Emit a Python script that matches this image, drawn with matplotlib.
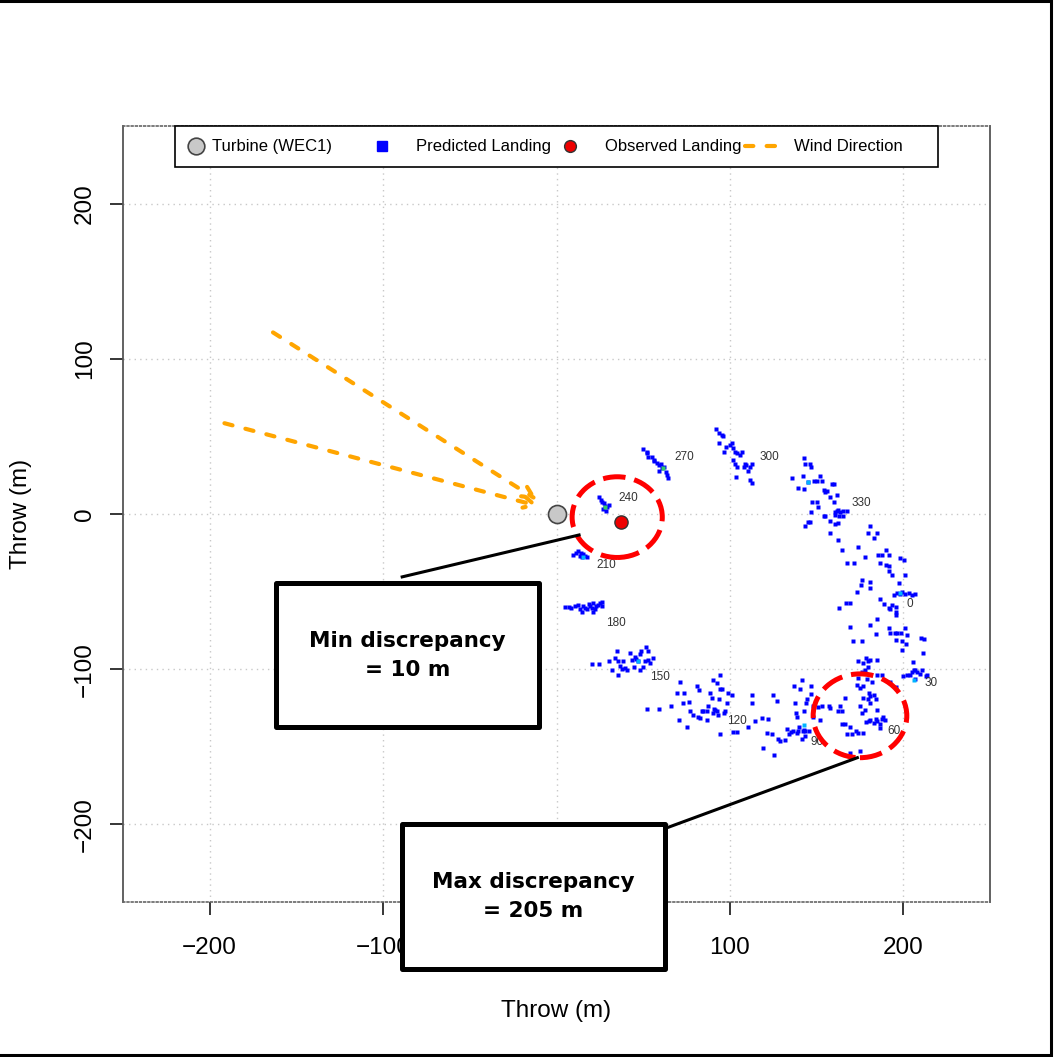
import matplotlib
matplotlib.use("Agg")
import matplotlib.pyplot as plt
from matplotlib.patches import Circle, Rectangle

plt.rcParams['font.family'] = ['Liberation Sans', 'DejaVu Sans']

# turbine and observed fragment (m)
turbine = (0, 0)
observed = (37, -5)

# predicted landing points, grouped by release angle (m)
land_240 = [(24.5, 11), (25.5, 9), (26.5, 8), (27.5, 7), (28, 5), (29, 4.5), (30, 6), (27, 3), (28.5, 2)]
land_210 = [(9.5, -26.5), (11, -25), (12.5, -24), (13.5, -27), (14.5, -27.5), (15.5, -25.5),
            (16.5, -27), (17.5, -28), (14, -25)]
land_180 = [(5, -60), (7, -60), (8.5, -60.5), (10.5, -59.5), (12.5, -58.5), (13.5, -61.5), (14.5, -63),
            (15.5, -59), (16.5, -60.5), (17.5, -61.5), (18.5, -58), (19.5, -59.5), (20.5, -60.5),
            (21, -57.5), (22, -61.5), (23, -59), (24, -58.5), (25, -57.5), (26, -56.5), (26.5, -59.5),
            (21, -63)]
land_150 = [(20.5, -96.5), (24.5, -96.5), (30, -95), (32, -100.5), (33.5, -93), (35, -88.5), (35.5, -94.5),
            (36.5, -98), (37.5, -100), (39.5, -99), (40.5, -100.5), (42.5, -89.5), (43.5, -94), (44.5, -98.5),
            (45.5, -92), (46, -93.5), (47, -95), (48, -100.5), (48, -90.5), (49, -88.5), (50, -98.5),
            (51, -95), (51.5, -85.5), (52.5, -88), (53, -94), (54, -96), (55.5, -93), (35.5, -103.5),
            (38.5, -95)]
land_120 = [(52, -125.5), (59, -125.5), (66, -123.5), (69.5, -115), (70.5, -132.5), (71.5, -108),
            (73, -121.5), (73.5, -115.5), (75, -137), (76.5, -121), (77, -127), (78.5, -129.5), (81, -111),
            (81.5, -131), (82, -113.5), (83, -131.5), (84, -127), (84.5, -127), (86.5, -127), (87.5, -124),
            (88.5, -115.5), (89.5, -118.5), (90, -107), (90.5, -128), (91, -125.5), (91.5, -126),
            (92.5, -127), (93, -129.5), (93.5, -119.5), (94.5, -141.5), (94.5, -103.5), (95.5, -113),
            (96.5, -128), (97, -127), (98.5, -121.5), (99, -115.5), (101, -116.5), (102, -140.5),
            (104, -140.5), (94.5, -113), (86.5, -132.5), (92.5, -109)]
land_90 = [(110.5, -137), (112.5, -116.5), (113, -122), (114.5, -133.5), (118.5, -131.5), (119, -150.5),
           (121.5, -141), (122, -132), (124, -141.5), (125, -116.5), (125.5, -155.5), (127, -120.5),
           (127.5, -145), (129, -146), (131.5, -145.5), (133, -138.5), (134, -141.5), (135, -140.5),
           (136.5, -140), (137, -110.5), (137.5, -121.5), (138, -128), (138.5, -141), (139.5, -140),
           (140.5, -113), (141.5, -107), (142, -140), (142.5, -127), (143, -139), (143.5, -139.5),
           (144, -122), (144.5, -119.5), (145.5, -140), (146.5, -116), (147, -111), (148, -124),
           (140, -137), (143.5, -143), (141.5, -145), (138.5, -130.5), (148, -130.5), (152, -132.5)]
land_60 = [(178.5, -93), (179.5, -94.5), (180.5, -94), (177, -96), (174, -95), (185, -94), (179.5, -98.5),
           (178, -100.5), (176, -102), (174, -105.5), (179, -106.5), (182, -108), (173, -110), (175, -112),
           (177, -110.5), (180, -115.5), (180.5, -117.5), (179.5, -119), (183, -116.5), (184, -119),
           (185, -126), (181, -121.5), (175, -123.5), (176, -128), (163.5, -124), (164.5, -127),
           (162.5, -127), (164.5, -135), (166.5, -135), (169.5, -137), (172.5, -140), (170.5, -142),
           (174, -141), (177, -141), (178.5, -134), (180, -133.5), (181, -133), (183, -134.5), (184, -132),
           (185, -133.5), (186.5, -135.5), (187.5, -132), (188.5, -131), (189.5, -132.5), (166.5, -118.5),
           (157, -123.5), (158, -125), (153, -124), (151, -124.5), (175, -153), (169.5, -154),
           (177, -118.5), (178, -126), (167.5, -142), (186.5, -138)]
land_30 = [(205.5, -95.5), (205, -101.5), (206, -100.5), (207, -100.5), (208, -101.5), (209.5, -103),
           (210.5, -100.5), (213, -104.5), (213.5, -103.5), (207, -106.5), (200, -104.5), (202, -103.5),
           (204, -103.5), (192.5, -108), (195.5, -111.5), (187.5, -103.5), (185, -103.5)]
land_0 = [(164.5, -23.5), (174, -21.5), (178, -27.5), (167.5, -31.5), (171.5, -31.5), (185.5, -26.5),
          (187.5, -26.5), (190, -23), (191.5, -26.5), (186.5, -31.5), (190, -33), (192, -33.5),
          (191.5, -36.5), (193.5, -39), (198, -28.5), (200.5, -29.5), (201, -39), (197.5, -44.5),
          (176, -42.5), (175.5, -45.5), (180.5, -43.5), (180.5, -47.5), (173.5, -50.5), (186.5, -55),
          (189, -58), (191.5, -60.5), (192.5, -61.5), (195.5, -60), (196, -63), (195.5, -65),
          (193.5, -58.5), (194.5, -52), (196.5, -51), (198, -51.5), (199, -50.5), (201, -51.5),
          (203, -51), (205, -52), (207, -51.5), (163, -60.5), (167, -57.5), (169.5, -57.5), (169.5, -73),
          (171, -81.5), (176, -81.5), (181, -71.5), (185, -67.5), (184.5, -77), (191.5, -73.5),
          (192.5, -76.5), (195, -76.5), (196.5, -76.5), (195.5, -81), (198.5, -76.5), (199, -82),
          (199, -87.5), (201.5, -84), (202, -78), (201, -73.5), (210, -80), (212, -80.5), (211.5, -89.5)]
land_330 = [(142.5, 36), (143.5, 32.5), (146, 32), (146.5, 30), (136, 23.5), (142, 24.5), (145, 20.5),
            (148.5, 21), (150, 21.5), (152, 24.5), (153, 21.5), (154, 15.5), (155, 14.5), (156, 15),
            (157.5, 11), (159, 19.5), (160, 19.5), (139.5, 16.5), (142.5, 16), (147.5, 7.5), (150.5, 8),
            (146.5, 1.5), (151, 4.5), (154, -1.5), (155, -1.5), (160, 7.5), (160.5, 1.5), (161.5, 2),
            (162.5, 2.5), (163.5, 1.5), (165.5, 2), (167.5, 2), (160.5, -0.5), (163, -1.5), (165, -1.5),
            (162, 12), (145, -5), (146, -5), (158, -4.5), (160.5, -6.5), (162.5, -5.5), (143.5, -8),
            (158, -12.5), (162.5, -16.5), (181, -8), (179.5, -12.5), (185, -12.5), (183, -15.5)]
land_300 = [(92, 54.5), (93.5, 52), (95.5, 51), (96, 50), (93.5, 45.5), (96.5, 40), (98, 43.5), (100, 44.5),
            (101, 45.5), (102, 42.5), (103, 40), (104, 39), (106, 38), (107, 40), (102, 35), (103, 32.5),
            (104, 30.5), (108, 30.5), (108.5, 32.5), (109.5, 31.5), (110.5, 27.5), (111.5, 30.5),
            (112.5, 32.5), (111.5, 22), (112.5, 20), (103.5, 24)]
land_270 = [(50, 42), (52, 39), (53, 37), (55, 36.5), (56, 35), (58, 33), (59, 31.5), (60, 32.5), (61, 29.5),
            (62, 30.5), (63, 27), (64, 25), (64.5, 23), (52, 40), (56, 34), (59, 28)]

# overlapping landings (denser spots)
dense_cyan = [(15.5, -27.5), (145, 20.5), (198, -51), (206, -107), (142.5, -136), (47, -95)]
dense_green = [(61.5, 29.5), (28, 4.5)]

# release angle labels
angle_labels = ['0', '30', '60', '90', '120', '150', '180', '210', '240', '270', '300', '330']
angle_x = [204, 216, 194.5, 150.5, 104, 59.5, 34, 28.5, 41.5, 73.5, 122.5, 176]
angle_y = [-58, -109, -139.5, -147, -133.5, -105, -70, -33, 10.5, 36.5, 37, 7]

# wind direction arrows
wind_start = [(-163.5, 117), (-191.5, 58.5)]
wind_end = [(-11, 9), (-10, 5)]

ticks = [-200, -100, 0, 100, 200]
orange = '#FFA500'

fig = plt.figure(figsize=(10.54, 10.57), dpi=100)
ax = fig.add_axes([0.1167, 0.1466, 0.8226, 0.7342])
ax.set_xlim(-250, 250)
ax.set_ylim(-250, 250)
ax.set_xticks(ticks)
ax.set_yticks(ticks)
ax.set_axisbelow(True)
ax.grid(color='#c8c8c8', linestyle=(0, (1, 3)), lw=1)

for s in ['left', 'right']:
    ax.spines[s].set_color('#555555')
    ax.spines[s].set_linewidth(1.3)
for s in ['top', 'bottom']:
    ax.spines[s].set_color('#666666')
    ax.spines[s].set_linestyle((0, (1, 1.5)))
    ax.spines[s].set_linewidth(1.2)

ax.tick_params(direction='out', length=9.5, width=1.1, labelsize=17.5,
               top=False, right=False)
ax.tick_params(axis='x', pad=16)
ax.tick_params(axis='y', labelrotation=90, pad=10)
for t in ax.get_yticklabels():
    t.set_va('center')
ax.set_xlabel('Throw (m)', fontsize=17.5, labelpad=29)
ax.set_ylabel('Throw (m)', fontsize=17.5, labelpad=30)

# predicted landings
for pts in [land_240, land_210, land_180, land_150, land_120, land_90,
            land_60, land_30, land_0, land_330, land_300, land_270]:
    xs = [p[0] for p in pts]
    ys = [p[1] for p in pts]
    ax.plot(xs, ys, 's', ms=2.3, color='#0000ff', mec='none', zorder=3)
ax.plot([p[0] for p in dense_cyan], [p[1] for p in dense_cyan], 's', ms=2.4,
        color='#00b4ff', mec='none', zorder=3)
ax.plot([p[0] for p in dense_green], [p[1] for p in dense_green], 's', ms=2.4,
        color='#33cc66', mec='none', zorder=3)

for lab, x, y in zip(angle_labels, angle_x, angle_y):
    ax.text(x, y, lab, fontsize=8.5, color='#333333', ha='center', va='center', zorder=3)

# wind arrows
for (x0, y0), (x1, y1) in zip(wind_start, wind_end):
    ax.annotate('', xy=(x1, y1), xytext=(x0, y0), zorder=4,
                arrowprops=dict(arrowstyle='->,head_length=0.8,head_width=0.4', color=orange,
                                lw=3, linestyle=(0, (2, 3.2)), capstyle='round',
                                shrinkA=0, shrinkB=0))

ax.plot(*turbine, 'o', ms=13, mfc='#c8c8c8', mec='#444444', mew=1.2, zorder=5)
ax.plot(*observed, 'o', ms=9.5, mfc='#ee0000', mec='#333333', mew=1, zorder=5)

# discrepancy rings
ax.add_patch(Circle((35, -2), 26, fill=False, ec='red', lw=3.6, ls=(0, (4.5, 1.8)), zorder=5))
ax.add_patch(Circle((175, -130), 27, fill=False, ec='red', lw=3.6, ls=(0, (4.5, 1.8)), zorder=5))

# callouts
ax.plot([-89, 13], [-40.5, -13.5], color='black', lw=2.2, zorder=6, clip_on=False)
ax.plot([62.6, 173.5], [-202.6, -157], color='black', lw=2.2, zorder=6, clip_on=False)
ax.add_patch(Rectangle((-162, -137.5), 152, 93, fc='white', ec='black', lw=3.6,
                       joinstyle='round', zorder=6, clip_on=False))
ax.add_patch(Rectangle((-89, -293), 151.5, 93, fc='white', ec='black', lw=3.6,
                       joinstyle='round', zorder=6, clip_on=False))
ax.text(-86, -91, 'Min discrepancy\n= 10 m', fontsize=15.5, fontweight='bold', family='DejaVu Sans',
        ha='center', va='center', zorder=7, clip_on=False, linespacing=1.55)
ax.text(-13.3, -246.5, 'Max discrepancy\n= 205 m', fontsize=15.5, fontweight='bold', family='DejaVu Sans',
        ha='center', va='center', zorder=7, clip_on=False, linespacing=1.55)

# legend
ly = 0.9736
ax.add_patch(Rectangle((0.060, 0.947), 0.880, 0.053, transform=ax.transAxes, fc='white',
                       ec='black', lw=1.2, zorder=8, clip_on=False))
ax.plot([0.0842], [ly], 'o', ms=12, mfc='#c8c8c8', mec='#444444', mew=1.2,
        transform=ax.transAxes, zorder=9, clip_on=False)
ax.plot([0.2987], [ly], 's', ms=7.5, color='#0000ff', transform=ax.transAxes, zorder=9, clip_on=False)
ax.plot([0.5156], [ly], 'o', ms=8.5, mfc='#ee0000', mec='#333333', mew=1,
        transform=ax.transAxes, zorder=9, clip_on=False)
ax.plot([0.7174, 0.7578], [ly, ly], color=orange, lw=3, ls=(0, (2, 3.2)), dash_capstyle='round',
        transform=ax.transAxes, zorder=9, clip_on=False)
for tx, txt in zip([0.1027, 0.3379, 0.5559, 0.7739],
                   ['Turbine (WEC1)', 'Predicted Landing', 'Observed Landing', 'Wind Direction']):
    ax.text(tx, ly, txt, transform=ax.transAxes, va='center', ha='left', fontsize=12, zorder=9)

fig.add_artist(Rectangle((-0.01, 0.0019), 1.0071, 0.9967, transform=fig.transFigure,
                         fill=False, ec='black', lw=2.2))

fig.savefig('out.png', dpi=100)
